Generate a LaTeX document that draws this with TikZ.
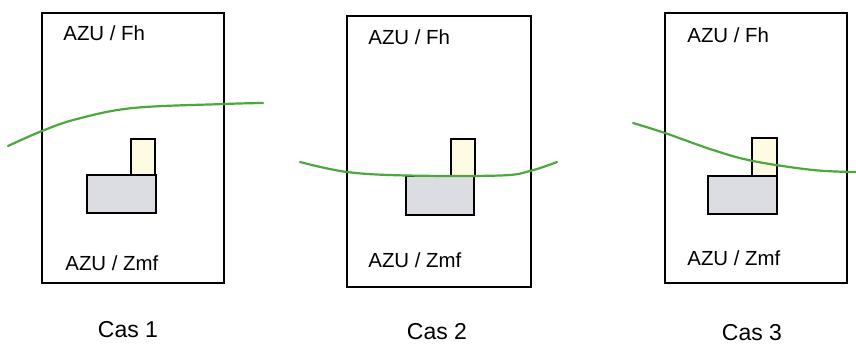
\documentclass[tikz,border=0pt]{standalone}
\usepackage{fontspec}
\setmainfont{Liberation Sans}
\usepackage{xcolor}
\usepackage{tikz}
\usetikzlibrary{positioning}

\definecolor{vertlimite}{RGB}{76,168,60}
\definecolor{batclair}{HTML}{FFFBE3}
\definecolor{batgris}{HTML}{DCDCE3}

\begin{document}
\begin{tikzpicture}[
    x=0.5pt, y=-0.5pt,
    cadre/.style={draw, line width=1pt},
    annexe/.style={draw, line width=1pt, fill=batclair},
    bati/.style={draw, line width=1pt, fill=batgris},
    limite/.style={vertlimite, line width=1.1pt, line cap=round},
    zone/.style={anchor=west, inner sep=0pt, font=\fontsize{10.2}{12}\selectfont, text height=7.3pt, text depth=0pt},
    cas/.style={inner sep=0pt, font=\fontsize{11.5}{13}\selectfont, text height=8.2pt, text depth=0pt},
]
\useasboundingbox (0,0) rectangle (856,343);

% Cas 1
\draw[cadre] (42,13) rectangle (224,283);
\node[zone] (fh1) at (63,33) {AZU / Fh};
\node[zone] (zmf1) at (65,263) {AZU / Zmf};
\draw[annexe] (131,139) rectangle (155,176);
\draw[bati] (87,175) rectangle (156,213);
\draw[limite] plot[smooth, tension=0.6] coordinates {(8,146) (42,131) (77,119) (133,108) (224,104) (263,103)};
\node[cas] (cas1) at (128,329) {Cas 1};

% Cas 2
\draw[cadre] (347,16) rectangle (531,287);
\node[zone] (fh2) at (368,37) {AZU / Fh};
\node[zone] (zmf2) at (368,260) {AZU / Zmf};
\draw[annexe] (451,139) rectangle (475,176);
\draw[bati] (406,176) rectangle (474,215);
\draw[limite] plot[smooth, tension=0.6] coordinates {(300,162) (347,172) (407,175.5) (500,175.5) (530,171) (557,162)};
\node[cas] (cas2) at (437,331) {Cas 2};

% Cas 3
\draw[cadre] (665,13) rectangle (847,283);
\node[zone] (fh3) at (687,35) {AZU / Fh};
\node[zone] (zmf3) at (687,258) {AZU / Zmf};
\draw[annexe] (752,138) rectangle (777,176);
\draw[bati] (708,176) rectangle (777,214);
\draw[limite] plot[smooth, tension=0.6] coordinates {(633,123) (665,133) (713,150) (753,161) (813,170) (856,172)};
\node[cas] (cas3) at (752,332) {Cas 3};

\end{tikzpicture}
\end{document}
